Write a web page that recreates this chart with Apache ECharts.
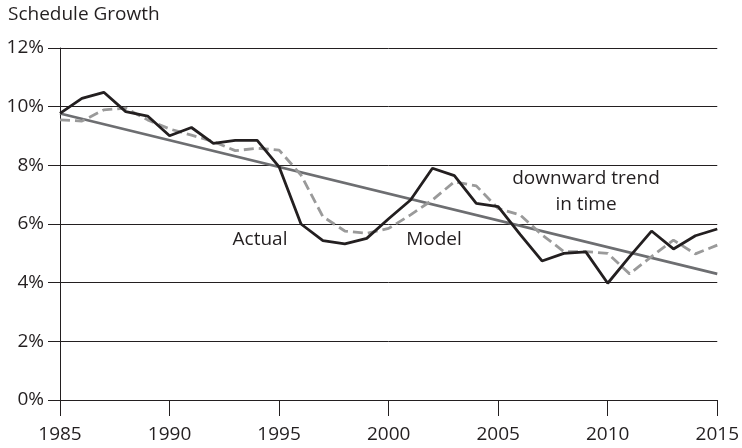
<!DOCTYPE html>
<html>
<head>
<meta charset="utf-8">
<script src="https://cdn.jsdelivr.net/npm/echarts@6/dist/echarts.min.js"></script>
<style>
body {
  margin: 0;
  padding: 0;
  background: #fff;
}

#chart {
  width: 742px;
  height: 448px;
}
</style>
</head>
<body>
<div id="chart"></div>
<script>
// values, percent per year
const years = [1985, 1986, 1987, 1988, 1989, 1990, 1991, 1992, 1993, 1994, 1995,
  1996, 1997, 1998, 1999, 2000, 2001, 2002, 2003, 2004, 2005,
  2006, 2007, 2008, 2009, 2010, 2011, 2012, 2013, 2014, 2015]
const actual = [9.77, 10.28, 10.49, 9.83, 9.68, 9.01, 9.29, 8.75, 8.85, 8.85, 7.95,
  6.0, 5.43, 5.32, 5.51, 6.18, 6.82, 7.9, 7.65, 6.7, 6.59,
  5.65, 4.74, 5.0, 5.05, 3.98, 4.89, 5.76, 5.15, 5.6, 5.83]
const model = [9.55, 9.51, 9.89, 9.95, 9.55, 9.24, 9.03, 8.81, 8.5, 8.58, 8.52,
  7.67, 6.25, 5.76, 5.68, 5.85, 6.31, 6.82, 7.44, 7.3, 6.53,
  6.31, 5.63, 5.06, 5.06, 5.0, 4.3, 4.89, 5.45, 4.98, 5.28]
const trendYears = [1985, 2015]
const trend = [9.77, 4.3]

const FONT = 'Open Sans'
const INK = '#231f20'
const TXT = '19px "Open Sans"'

const chart = echarts.init(document.getElementById('chart'))

const pairs = (xs, ys) => xs.map((x, i) => [x, ys[i]])

chart.setOption({
  animation: false,
  backgroundColor: '#fff',
  textStyle: { fontFamily: FONT },
  grid: { left: 60, right: 24, top: 48, bottom: 48 },
  xAxis: {
    type: 'value',
    min: 1985,
    max: 2015,
    interval: 5,
    axisLine: { show: true, lineStyle: { color: INK, width: 1 } },
    axisTick: { show: true, length: 16, lineStyle: { color: INK, width: 1 } },
    axisLabel: { color: INK, fontSize: 19, fontFamily: FONT, margin: 25, formatter: v => String(v) },
    splitLine: { show: false }
  },
  yAxis: {
    type: 'value',
    min: 0,
    max: 12,
    interval: 2,
    axisLine: { show: true, lineStyle: { color: INK, width: 1 } },
    axisTick: { show: true, length: 12, lineStyle: { color: INK, width: 1 } },
    axisLabel: { color: INK, fontSize: 19, fontFamily: FONT, margin: 16, formatter: '{value}%' },
    splitLine: { show: true, lineStyle: { color: INK, width: 1 } }
  },
  graphic: [
    {
      type: 'text', left: 8, top: 5,
      style: { text: 'Schedule Growth', fill: INK, font: TXT }
    },
    {
      type: 'text', x: 260, y: 240,
      style: { text: 'Actual', fill: INK, font: TXT, align: 'center', verticalAlign: 'middle' }
    },
    {
      type: 'text', x: 434, y: 240,
      style: { text: 'Model', fill: INK, font: TXT, align: 'center', verticalAlign: 'middle' }
    },
    {
      type: 'text', x: 586, y: 192,
      style: { text: 'downward trend\nin time', fill: INK, font: TXT, lineHeight: 26, align: 'center', verticalAlign: 'middle' }
    }
  ],
  series: [
    {
      name: 'Trend',
      type: 'line',
      data: pairs(trendYears, trend),
      symbol: 'none',
      lineStyle: { color: '#6d6e71', width: 2.6 },
      z: 2
    },
    {
      name: 'Model',
      type: 'line',
      data: pairs(years, model),
      symbol: 'none',
      lineStyle: { color: '#9a9a9a', width: 2.8, type: [10, 5] },
      z: 3
    },
    {
      name: 'Actual',
      type: 'line',
      data: pairs(years, actual),
      symbol: 'none',
      lineStyle: { color: INK, width: 2.8 },
      z: 4
    }
  ]
})
</script>
</body>
</html>
